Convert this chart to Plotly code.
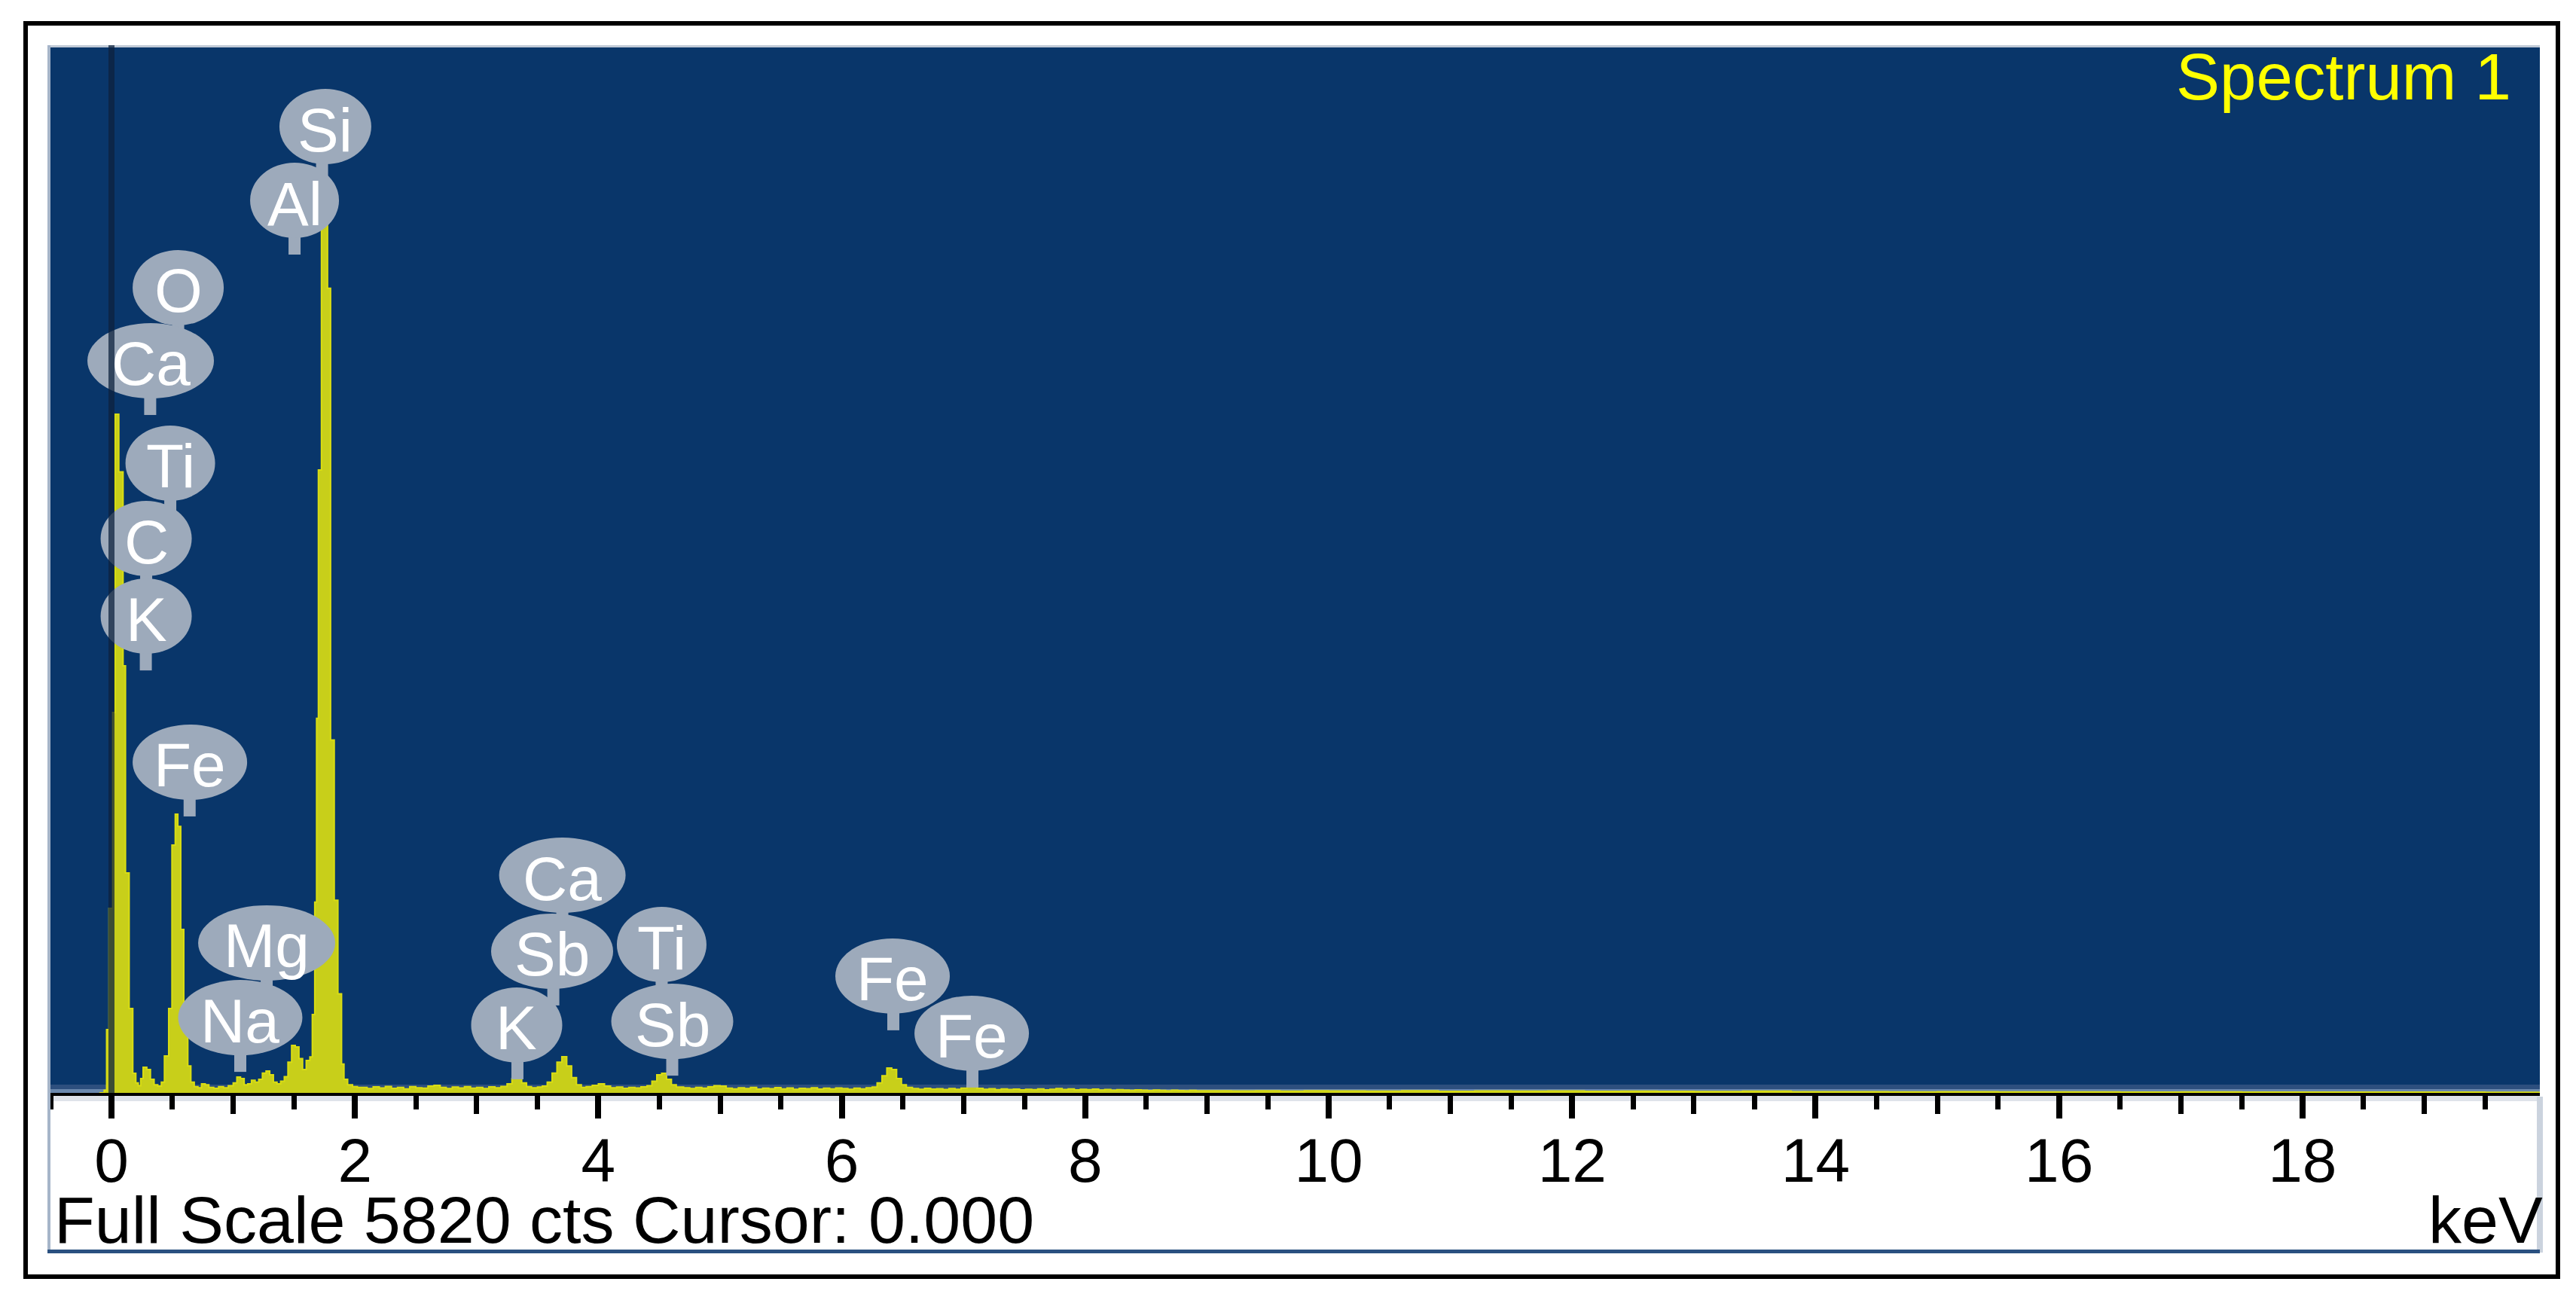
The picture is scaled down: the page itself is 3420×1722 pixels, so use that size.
import plotly.graph_objects as go

# spectrum (keV, counts)
low_kev = [-0.10, -0.06, -0.04, -0.02, 0.01, 0.03, 0.06, 0.095, 0.115, 0.145, 0.175, 0.20, 0.22,
           0.24, 0.26, 0.29, 0.32, 0.35, 0.38, 0.41, 0.435, 0.47, 0.497, 0.524, 0.545, 0.569, 0.594,
           0.627, 0.652, 0.68, 0.71, 0.74, 0.77, 0.80, 0.84, 0.88, 0.92, 0.96, 1.00, 1.03, 1.06,
           1.09, 1.12, 1.15, 1.18, 1.21, 1.24, 1.27, 1.30, 1.33, 1.36, 1.39, 1.42, 1.45, 1.48, 1.51,
           1.54, 1.57, 1.60, 1.63, 1.65, 1.67, 1.685, 1.70, 1.725, 1.75, 1.775, 1.80, 1.83, 1.86,
           1.89, 1.91, 1.94, 1.98, 2.02]
low_cts = [0, 15, 351, 1025, 2113, 3770, 3450, 2372, 1222, 469, 109, 55, 40,
           80, 142, 130, 75, 45, 38, 60, 205, 469, 1377, 1548, 1480, 908, 335,
           150, 60, 35, 28, 50, 45, 30, 25, 35, 28, 40, 55, 88, 80,
           45, 50, 70, 60, 75, 110, 121, 100, 60, 50, 65, 90, 170, 264, 255,
           190, 130, 180, 200, 435, 1060, 2080, 3460, 4810, 4820, 4470, 1960, 1070, 550,
           160, 75, 45, 35, 30]

mid_kev = [2.05, 2.10, 2.15, 2.20, 2.25, 2.30, 2.35, 2.40, 2.45, 2.50, 2.55, 2.60, 2.65, 2.70,
           2.75, 2.80, 2.85, 2.90, 2.95, 3.00, 3.05, 3.10, 3.15, 3.20, 3.25, 3.29, 3.33, 3.37,
           3.41, 3.45, 3.50, 3.54, 3.58, 3.62, 3.66, 3.70, 3.74, 3.78, 3.82, 3.86, 3.90, 3.95,
           4.00, 4.05, 4.10, 4.15, 4.20, 4.25, 4.30, 4.35, 4.40, 4.44, 4.48, 4.52, 4.56, 4.60,
           4.64, 4.70, 4.75, 4.80, 4.85, 4.90, 4.95, 5.00, 5.05, 5.10, 5.15, 5.20, 5.25, 5.30,
           5.35, 5.40, 5.45, 5.50, 5.55, 5.60, 5.65, 5.70, 5.75, 5.80, 5.85, 5.90, 5.95, 6.00,
           6.05, 6.10, 6.15, 6.20, 6.25, 6.29, 6.33, 6.37, 6.41, 6.45, 6.49, 6.53, 6.58, 6.63,
           6.68, 6.73, 6.78, 6.83, 6.88, 6.93, 6.98, 7.03, 7.07, 7.11, 7.16, 7.21, 7.26, 7.31,
           7.36, 7.41, 7.46, 7.51, 7.56, 7.61, 7.66, 7.71, 7.76, 7.81, 7.86, 7.91, 7.96, 8.01,
           8.06, 8.11, 8.16, 8.21, 8.26, 8.31, 8.36, 8.41, 8.46, 8.51, 8.56, 8.61, 8.66, 8.71,
           8.76, 8.81, 8.86, 8.91, 8.96]
mid_cts = [30, 24, 33, 27, 36, 25, 30, 22, 34, 28, 26, 38, 42, 30,
           24, 32, 27, 35, 26, 30, 24, 33, 28, 36, 50, 80, 78, 55,
           35, 28, 32, 38, 60, 110, 170, 201, 150, 85, 45, 30, 34, 42,
           50, 38, 28, 32, 25, 30, 27, 33, 40, 65, 100, 109, 75, 45,
           32, 28, 24, 30, 26, 33, 40, 38, 26, 22, 28, 24, 30, 21,
           26, 23, 29, 22, 27, 20, 25, 23, 28, 21, 26, 22, 27, 24,
           20, 26, 22, 28, 32, 55, 95, 138, 130, 80, 45, 30, 24, 20,
           25, 21, 23, 19, 24, 20, 26, 36, 34, 25, 20, 23, 18, 22,
           19, 21, 17, 20, 18, 22, 17, 20, 24, 19, 22, 17, 20, 18,
           21, 16, 19, 15, 18, 16, 14, 17, 15, 13, 16, 14, 12, 15,
           13, 11, 14, 12, 11]

high_kev = [9.2, 9.4, 9.6, 9.8, 10.0, 10.3, 10.6, 10.9, 11.2, 11.5, 11.8, 12.1, 12.4, 12.7,
            13.0, 13.4, 13.8, 14.2, 14.6, 15.0, 15.5, 16.0, 16.5, 17.0, 17.5, 18.0, 18.5, 19.0,
            19.5, 20.0]
high_cts = [10, 12, 9, 11, 10, 9, 11, 8, 10, 9, 10, 8, 9, 8,
            7, 9, 6, 6, 5, 6, 5, 5, 4, 5, 4, 4, 4, 4,
            3, 3]

# peak labels: element, energy of the marker (keV), bubble centre height (counts)
label_text = ['Si', 'Al', 'O', 'Ca', 'Ti', 'C', 'K', 'Fe', 'Mg', 'Na',
              'Ca', 'Sb', 'K', 'Ti', 'Sb', 'Fe', 'Fe']
label_kev = [1.757, 1.504, 0.548, 0.322, 0.483, 0.285, 0.285, 0.644, 1.275, 1.058,
             3.704, 3.620, 3.329, 4.520, 4.607, 6.417, 7.067]
label_cts = [5368, 4958, 4473, 4067, 3498, 3079, 2648, 1837, 833, 418,
             1209, 787, 377, 824, 397, 649, 331]
stem_kev = [1.73, 1.504, 0.548, 0.318, 0.483, 0.285, 0.282, 0.642, 1.275, 1.058,
            3.704, 3.630, 3.335, 4.520, 4.607, 6.423, 7.073]

full_scale = 5820
x_range = [-0.526, 19.95]

# page body has an 8px margin, so the figure is drawn 8px in from the window corner
OFF = 8
W, H = 3420 - 2 * OFF, 1722 - 2 * OFF
ml, mt = 63 - OFF, 60 - OFF
mr, mb = W - (3372 - OFF), H - (1451 - OFF)
pw, ph = W - ml - mr, H - mt - mb

navy = '#09366a'
bubble = '#9daabb'
fontfam = 'Liberation Sans, Arial, sans-serif'


def px_x(X):
    return (X - OFF - ml) / pw


def px_y(Y):
    return (H - mb - (Y - OFF)) / ph


kev_px = (x_range[1] - x_range[0]) / pw
cts_px = full_scale / ph

kev = low_kev + mid_kev + high_kev
cts = low_cts + mid_cts + high_cts

fig = go.Figure()
fig.add_trace(go.Scatter(x=kev, y=cts, mode='lines', line=dict(color='#d9dd12', width=2, shape='hv'),
                         fill='tozeroy', fillcolor='#c8cf1a', hoverinfo='skip', showlegend=False))
fig.add_trace(go.Scatter(x=[], y=[], xaxis='x2', showlegend=False))

shapes = []
# bottom light strips inside the plot
shapes.append(dict(type='rect', xref='paper', yref='paper', x0=0, x1=1, y0=px_y(1446), y1=px_y(1440),
                   fillcolor='#2d4f7e', line_width=0, layer='below'))
shapes.append(dict(type='rect', xref='paper', yref='paper', x0=0, x1=1, y0=px_y(1451), y1=px_y(1446),
                   fillcolor='#6a88ad', line_width=0, layer='below'))
# frame pieces around plot and lower strip
shapes.append(dict(type='rect', xref='paper', yref='paper', x0=0, x1=1, y0=px_y(1462), y1=px_y(1455),
                   fillcolor='#dfe3ea', line_width=0, layer='below'))
shapes.append(dict(type='rect', xref='paper', yref='paper', x0=0, x1=1, y0=px_y(63), y1=px_y(60),
                   fillcolor='#c0c9d6', line_width=0, layer='above'))
shapes.append(dict(type='rect', xref='paper', yref='paper', x0=px_x(63), x1=px_x(67), y0=px_y(1663), y1=px_y(60),
                   fillcolor='#a6b5c9', line_width=0, layer='above'))
shapes.append(dict(type='rect', xref='paper', yref='paper', x0=px_x(3368), x1=px_x(3376), y0=px_y(1663), y1=px_y(1456),
                   fillcolor='#cbd3de', line_width=0, layer='below'))
shapes.append(dict(type='rect', xref='paper', yref='paper', x0=0, x1=1, y0=px_y(1664), y1=px_y(1659),
                   fillcolor='#2a5080', line_width=0, layer='above'))
# outer border
shapes.append(dict(type='rect', xref='paper', yref='paper', x0=px_x(34), x1=px_x(3396), y0=px_y(1695), y1=px_y(31),
                   line=dict(color='black', width=6), layer='above'))

# label stems then bubbles
for i, t in enumerate(label_text):
    bottom = label_cts[i] - 50 * cts_px
    shapes.append(dict(type='rect', xref='x', yref='y', x0=stem_kev[i] - 8 * kev_px, x1=stem_kev[i] + 8 * kev_px,
                       y0=bottom - 22 * cts_px, y1=bottom + 5 * cts_px, fillcolor=bubble, line_width=0, layer='above'))
for i, t in enumerate(label_text):
    wpx = 121 if len(t) == 1 else {'Si': 122, 'Al': 118, 'Ti': 119, 'Ca': 168, 'Fe': 152, 'Mg': 182,
                                  'Na': 165, 'Sb': 162}[t]
    shapes.append(dict(type='circle', xref='x', yref='y',
                       x0=label_kev[i] - wpx / 2 * kev_px, x1=label_kev[i] + wpx / 2 * kev_px,
                       y0=label_cts[i] - 50 * cts_px, y1=label_cts[i] + 50 * cts_px,
                       fillcolor=bubble, line_width=0, layer='above'))
# cursor line at 0 keV
shapes.append(dict(type='line', xref='x', yref='paper', x0=0, x1=0, y0=0, y1=1,
                   line=dict(color='rgba(14,34,62,0.75)', width=8), layer='above'))

annotations = []
for i, t in enumerate(label_text):
    annotations.append(dict(x=label_kev[i], y=label_cts[i], xref='x', yref='y', text=t, showarrow=False,
                            yshift=-4, font=dict(family=fontfam, size=82, color='white')))
annotations.append(dict(x=px_x(3336), y=px_y(101), xref='paper', yref='paper', text='Spectrum 1',
                        xanchor='right', yanchor='middle', showarrow=False,
                        font=dict(family=fontfam, size=87, color='#ffff00')))
annotations.append(dict(x=px_x(70), y=px_y(1619), xref='paper', yref='paper',
                        text='Full Scale 5820 cts Cursor: 0.000', xanchor='left', yanchor='middle',
                        showarrow=False, font=dict(family=fontfam, size=88, color='black')))
annotations.append(dict(x=px_x(3378), y=px_y(1619), xref='paper', yref='paper', text='keV',
                        xanchor='right', yanchor='middle', showarrow=False,
                        font=dict(family=fontfam, size=88, color='black')))

fig.update_layout(
    width=W, height=H,
    margin=dict(l=ml, r=mr, t=mt, b=mb, pad=0),
    paper_bgcolor='white', plot_bgcolor=navy,
    showlegend=False,
    shapes=shapes, annotations=annotations,
    xaxis=dict(range=x_range, showgrid=False, zeroline=False, showline=True, linecolor='black', linewidth=4,
               ticks='outside', tick0=0, dtick=2, ticklen=30, tickwidth=8, tickcolor='black',
               ticklabelstandoff=-14,
               tickfont=dict(family=fontfam, size=82, color='black'),
               minor=dict(ticks='outside', tick0=0, dtick=0.5, ticklen=18, tickwidth=7, tickcolor='black')),
    xaxis2=dict(range=x_range, overlaying='x', anchor='y', side='bottom', showgrid=False, zeroline=False,
                showline=True, linecolor='black', linewidth=4, ticks='outside', tick0=0, dtick=1,
                ticklen=24, tickwidth=7, tickcolor='black', showticklabels=False),
    yaxis=dict(range=[0, full_scale], visible=False, showgrid=False, zeroline=False),
)

fig.write_html('out.html')
